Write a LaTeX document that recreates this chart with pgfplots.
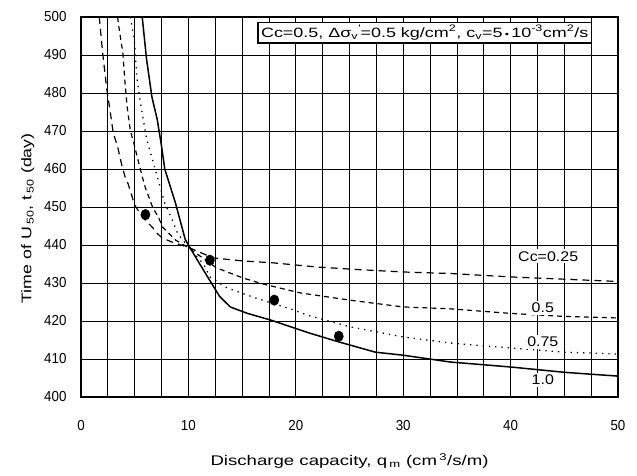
\documentclass[border=0pt]{standalone}
\usepackage{fontspec}
\setmainfont{Liberation Sans}
\newfontfamily\xlblfont[FakeStretch=1.33]{Liberation Sans}
\newfontfamily\ylblfont[FakeStretch=1.27]{Liberation Sans}
\newfontfamily\boxfont[FakeStretch=1.33]{Liberation Sans}
\newfontfamily\curvefont[FakeStretch=1.14]{Liberation Sans}
\newfontfamily\tickfont[FakeStretch=0.92]{Liberation Sans}
\usepackage{pgfplots}
\pgfplotsset{compat=1.18}
\begin{document}
\begin{tikzpicture}
\begin{axis}[
  scale only axis, width=537pt, height=380pt,
  xmin=0, xmax=50, ymin=400, ymax=500,
  xtick={0,10,...,50}, ytick={400,410,...,500},
  minor xtick={2.5,5,...,50},
  grid=both,
  major grid style={black, line width=0.8pt},
  minor grid style={black, line width=0.8pt},
  axis line style={black, line width=1.5pt},
  major tick length=0pt, minor tick length=0pt,
  /pgf/number format/assume math mode=true,
  ticklabel style={font=\tickfont\fontsize{14.5}{17}\selectfont},
  xticklabel style={yshift=-20pt},
  yticklabel style={xshift=-11pt},
  xlabel={Discharge capacity, q\,\textsubscript{m} (cm\,\textsuperscript{3}/s/m)},
  ylabel={Time of U\,\textsubscript{50}, t\,\textsubscript{50} (day)},
  xlabel style={font=\xlblfont\fontsize{14}{16}\selectfont, yshift=-16pt},
  ylabel style={font=\ylblfont\fontsize{14}{16}\selectfont, at={(ticklabel cs:0.47)}, yshift=3pt},
]
% Cc = 0.25
\addplot[black, line width=1.2pt, dash pattern=on 7pt off 5pt] coordinates {
(1.7,500)(2.0,491)(2.2,486)(2.4,481)(2.7,475.5)(3.0,469.5)(3.4,466)(3.8,461)(4.1,458)(4.4,456)(5,450.5)(5.7,447.4)(6.7,444.5)(7.1,443)(7.6,441.8)(8.7,440.5)(9.9,439.5)(12.3,436.6)(15.1,435.8)(17.9,435.3)(22,434.2)(26,433.5)(30,432.9)(34.4,432.5)(40,431.6)(45,431)(50,430.4)};
% Cc = 0.5
\addplot[black, line width=1.2pt, dash pattern=on 5pt off 4pt] coordinates {
(3.4,500)(3.6,496)(3.9,490.5)(4.1,482.6)(4.3,476.3)(4.6,470)(4.9,467)(5.7,458)(6,455)(6.7,449.7)(7.2,447.4)(7.6,444.7)(8.8,441.3)(10,439.3)(12.6,434)(15.1,431.3)(17,429.7)(20.4,427.4)(25,425.5)(30,423.7)(34.4,423.2)(40,422)(45,421.2)(50,420.8)};
% Cc = 0.75
\addplot[black, line width=1.3pt, dash pattern=on 1.3pt off 5pt] coordinates {
(4.6,500)(5.0,493)(5.2,484)(5.5,478)(5.8,473)(6.1,468)(6.6,463)(7.4,455)(7.8,451)(8.5,446.6)(9,443)(10,439.5)(11.4,435)(12,431.6)(13.6,428.7)(16,426.3)(19.7,423)(21,421.6)(25,418.5)(30,415.8)(34.4,414.2)(40,412.9)(45,411.8)(50,411.3)};
% Cc = 1.0
\addplot[black, line width=1.5pt] coordinates {
(5.7,500)(6.1,489)(6.6,479)(7.1,473)(7.5,466)(7.8,460)(8.8,451)(9.7,441.5)(10.1,439.5)(11.4,433.4)(12.9,426.5)(13.9,423.7)(15.5,422)(17.6,420.3)(21.3,416.8)(24,414.5)(27.4,411.8)(30,411)(34.4,409.2)(40,407.9)(45,406.5)(50,405.5)};
% measured points
\addplot[only marks, mark=*, mark size=4.6pt, mark options={yscale=1.15}, black] coordinates {(6,448)(12,436)(18,425.5)(24,416)};
% curve labels
\node[fill=white, inner sep=2pt, font=\curvefont\fontsize{14}{16}\selectfont] at (axis cs:43.5,437) {Cc=0.25};
\node[fill=white, inner sep=2pt, font=\curvefont\fontsize{14}{16}\selectfont] at (axis cs:43,423.5) {0.5};
\node[fill=white, inner sep=2pt, font=\curvefont\fontsize{14}{16}\selectfont] at (axis cs:43,414.5) {0.75};
\node[fill=white, inner sep=2pt, font=\curvefont\fontsize{14}{16}\selectfont] at (axis cs:43,404.5) {1.0};
% parameter box
\node[draw=black, line width=1.3pt, fill=white, inner sep=3pt, font=\boxfont\fontsize{13.5}{15}\selectfont] at (axis cs:32,495.9)
  {Cc=0.5, Δσ\textsubscript{v}\textsuperscript{\textquotesingle}=0.5 kg/cm\textsuperscript{2}, c\textsubscript{v}=5\,{\small•}\,10\textsuperscript{-3}cm\textsuperscript{2}/s};
\end{axis}
\pgfresetboundingbox
\path (-81pt,-78pt) rectangle (556pt,397pt);
\end{tikzpicture}
\end{document}
